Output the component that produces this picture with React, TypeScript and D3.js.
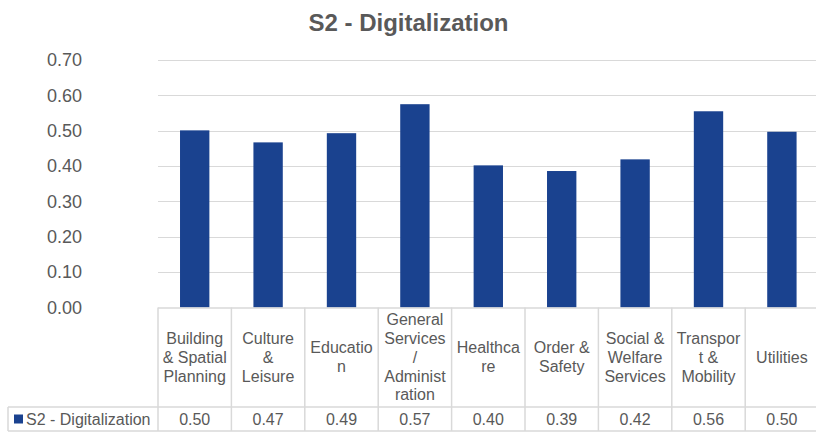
import React, { useRef, useEffect } from 'react';
import * as d3 from 'd3';

// Chart data
const categories = [
  'Building & Spatial Planning',
  'Culture & Leisure',
  'Education',
  'General Services / Administration',
  'Healthcare',
  'Order & Safety',
  'Social & Welfare Services',
  'Transport & Mobility',
  'Utilities',
];

// Excel-style wrapped category labels
const categoryLines = [
  ['Building', '& Spatial', 'Planning'],
  ['Culture', '&', 'Leisure'],
  ['Educatio', 'n'],
  ['General', 'Services', '/', 'Administ', 'ration'],
  ['Healthca', 're'],
  ['Order &', 'Safety'],
  ['Social &', 'Welfare', 'Services'],
  ['Transpor', 't &', 'Mobility'],
  ['Utilities'],
];

const seriesName = 'S2 - Digitalization';
const values = [0.501, 0.467, 0.493, 0.575, 0.402, 0.386, 0.419, 0.555, 0.497];
const yTicks = [0, 0.1, 0.2, 0.3, 0.4, 0.5, 0.6, 0.7];

const App = () => {
  const svgRef = useRef<SVGSVGElement>(null);

  useEffect(() => {
    const width = 816;
    const height = 432;
    const plotLeft = 158;
    const plotRight = 818.6;
    const plotTop = 60;
    const plotBottom = 307.5;
    const catRowBottom = 407;
    const valRowBottom = 431;
    const tableLeft = 8;
    const font = '"Liberation Sans", Arial, sans-serif';
    const textColor = '#595959';
    const lineColor = '#D9D9D9';
    const barColor = '#1A428F';

    const svg = d3.select(svgRef.current)
      .attr('width', width)
      .attr('height', height)
      .attr('viewBox', `0 0 ${width} ${height}`)
      .style('font-family', font);

    svg.selectAll('*').remove();

    svg.append('rect').attr('width', width).attr('height', height).attr('fill', '#fff');

    // Scales
    const x = d3.scaleBand()
      .domain(categories)
      .range([plotLeft, plotRight])
      .paddingInner(0.6)
      .paddingOuter(0.3);

    const col = d3.scaleBand()
      .domain(categories)
      .range([plotLeft, plotRight]);

    const y = d3.scaleLinear()
      .domain([0, 0.7])
      .range([plotBottom, plotTop]);

    // Title
    svg.append('text')
      .attr('x', 408.5)
      .attr('y', 31)
      .attr('text-anchor', 'middle')
      .attr('fill', textColor)
      .attr('font-size', 24)
      .attr('font-weight', 'bold')
      .text(seriesName);

    // Grid lines and y labels
    const yAxis = svg.append('g');
    yAxis.selectAll('line')
      .data(yTicks.filter(d => d > 0))
      .join('line')
      .attr('x1', plotLeft)
      .attr('x2', plotRight)
      .attr('y1', d => Math.round(y(d)) + 0.5)
      .attr('y2', d => Math.round(y(d)) + 0.5)
      .attr('stroke', lineColor)
      .attr('stroke-width', 1);

    yAxis.selectAll('text')
      .data(yTicks)
      .join('text')
      .attr('x', 82)
      .attr('y', d => y(d))
      .attr('dy', '0.35em')
      .attr('text-anchor', 'end')
      .attr('fill', textColor)
      .attr('font-size', 18)
      .text(d => d3.format('.2f')(d));

    // Bars
    svg.append('g')
      .selectAll('rect')
      .data(values)
      .join('rect')
      .attr('x', (d, i) => x(categories[i]))
      .attr('width', x.bandwidth())
      .attr('y', d => y(d))
      .attr('height', d => y(0) - y(d))
      .attr('fill', barColor);

    // Data table
    const table = svg.append('g')
      .attr('stroke', lineColor)
      .attr('stroke-width', 1.5)
      .attr('fill', 'none');

    table.append('line')
      .attr('x1', plotLeft).attr('x2', plotRight)
      .attr('y1', plotBottom + 0.5).attr('y2', plotBottom + 0.5);
    table.append('line')
      .attr('x1', tableLeft).attr('x2', plotRight)
      .attr('y1', catRowBottom).attr('y2', catRowBottom);
    table.append('line')
      .attr('x1', tableLeft).attr('x2', plotRight)
      .attr('y1', valRowBottom).attr('y2', valRowBottom);
    table.append('line')
      .attr('x1', tableLeft).attr('x2', tableLeft)
      .attr('y1', catRowBottom).attr('y2', valRowBottom);

    table.selectAll('line.col')
      .data([...categories.map(c => col(c) as number), plotRight])
      .join('line')
      .attr('class', 'col')
      .attr('x1', d => d).attr('x2', d => d)
      .attr('y1', plotBottom).attr('y2', valRowBottom);

    // Category labels
    const lineHeight = 18.8;
    const catMid = (plotBottom + catRowBottom) / 2;
    const labels = svg.append('g');
    categories.forEach((c, i) => {
      const lines = categoryLines[i];
      const t = labels.append('text')
        .attr('x', (col(c) as number) + col.bandwidth() / 2)
        .attr('text-anchor', 'middle')
        .attr('fill', textColor)
        .attr('font-size', 16);
      lines.forEach((ln, j) => {
        t.append('tspan')
          .attr('x', (col(c) as number) + col.bandwidth() / 2)
          .attr('y', catMid + (j - (lines.length - 1) / 2) * lineHeight)
          .attr('dy', '0.35em')
          .text(ln);
      });
    });

    // Value row
    const valMid = (catRowBottom + valRowBottom) / 2;
    svg.append('g')
      .selectAll('text')
      .data(values)
      .join('text')
      .attr('x', (d, i) => (col(categories[i]) as number) + col.bandwidth() / 2)
      .attr('y', valMid)
      .attr('dy', '0.35em')
      .attr('text-anchor', 'middle')
      .attr('fill', textColor)
      .attr('font-size', 16)
      .text(d => d3.format('.2f')(d));

    // Legend key in the table
    svg.append('rect')
      .attr('x', 14)
      .attr('y', valMid - 4.5)
      .attr('width', 9)
      .attr('height', 9)
      .attr('fill', barColor);

    svg.append('text')
      .attr('x', 26)
      .attr('y', valMid)
      .attr('dy', '0.35em')
      .attr('fill', textColor)
      .attr('font-size', 16)
      .text(seriesName);
  }, []);

  return (
    <svg ref={svgRef} style={{ position: 'absolute', left: 0, top: 0, display: 'block' }}></svg>
  );
};

export default App;
